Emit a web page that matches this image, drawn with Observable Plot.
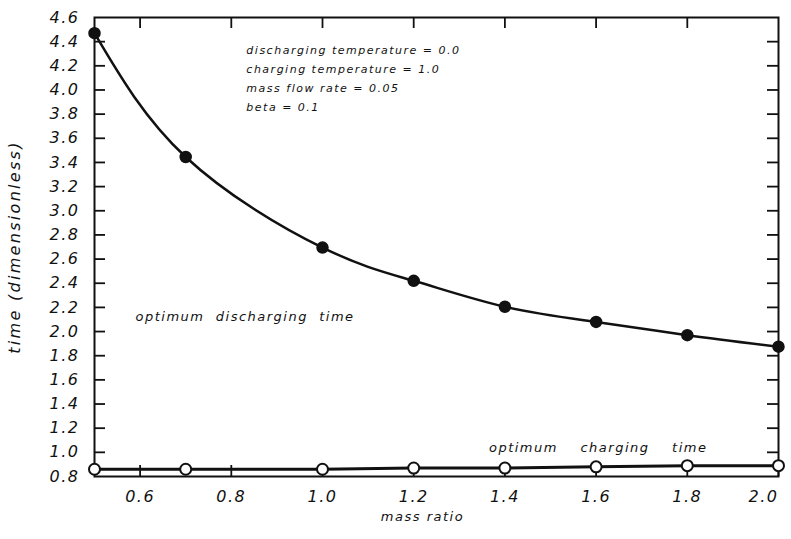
<!DOCTYPE html>
<html><head><meta charset="utf-8">
<script src="https://cdn.jsdelivr.net/npm/d3@7"></script>
<script src="https://cdn.jsdelivr.net/npm/@observablehq/plot@0.6"></script>
<style>
html,body{margin:0;padding:0;background:#fff;}
#chart svg text{font-family:"DejaVu Sans",sans-serif;font-style:italic;letter-spacing:1.5px;}
#chart g[aria-label="y-axis label"] text{letter-spacing:2.3px;}
#chart g[aria-label="params"] text{letter-spacing:0px;}
#chart g[aria-label="series-labels"] text{letter-spacing:0.2px;}
#chart g[aria-label="x-title"] text{letter-spacing:0px;}
</style></head><body><div id="chart"></div>
<script>
const massRatio = [0.5, 0.7, 1.0, 1.2, 1.4, 1.6, 1.8, 2.0];
const dischargingTime = [4.47, 3.445, 2.695, 2.42, 2.205, 2.08, 1.97, 1.875];
const chargingTime = [0.86, 0.86, 0.86, 0.87, 0.87, 0.88, 0.89, 0.89];
const xTicks = [0.6, 0.8, 1.0, 1.2, 1.4, 1.6, 1.8, 2.0];
const yTicks = [0.8, 1.0, 1.2, 1.4, 1.6, 1.8, 2.0, 2.2, 2.4, 2.6, 2.8, 3.0, 3.2, 3.4, 3.6, 3.8, 4.0, 4.2, 4.4, 4.6];
const paramLines = [
  "discharging temperature = 0.0",
  "charging temperature = 1.0",
  "mass flow rate = 0.05",
  "beta = 0.1"
];
const seriesLabels = ["optimum  discharging  time", "optimum    charging    time"];
const xLabel = "mass ratio";
const yLabel = "time (dimensionless)";

const discharging = massRatio.map((x, i) => ({x, y: dischargingTime[i]}));
const charging = massRatio.map((x, i) => ({x, y: chargingTime[i]}));
const params = paramLines.map((t, i) => ({t, i}));
const labelPos = [{x: 0.59, y: 2.12}, {x: 1.365, y: 1.04}];
const seriesText = seriesLabels.map((t, i) => ({t, ...labelPos[i]}));

const fmt = d => d.toFixed(1);
const xMin = 0.5, xMax = 2.0, yMin = 0.8, yMax = 4.6;
const tk = 11;

const chart = Plot.plot({
  width: 791,
  height: 539,
  marginLeft: 94,
  marginRight: 13,
  marginTop: 17,
  marginBottom: 63,
  style: {fontSize: "16px", color: "#111", background: "#fff"},
  x: {domain: [xMin, xMax]},
  y: {domain: [yMin, yMax]},
  marks: [
    Plot.frame({stroke: "#111", strokeWidth: 2}),
    // inward ticks
    Plot.ruleX(xTicks, {x: d => d, y1: yMin, y2: yMin, insetTop: -tk, stroke: "#111", strokeWidth: 1.8}),
    Plot.ruleX(xTicks.slice(0, -1), {x: d => d, y1: yMax, y2: yMax, insetBottom: -tk, stroke: "#111", strokeWidth: 1.8}),
    Plot.ruleY(yTicks.slice(1, -1), {y: d => d, x1: xMin, x2: xMin, insetRight: -tk, stroke: "#111", strokeWidth: 1.8}),
    Plot.ruleY(yTicks.slice(1, -1), {y: d => d, x1: xMax, x2: xMax, insetLeft: -tk, stroke: "#111", strokeWidth: 1.8}),
    // tick labels
    Plot.axisX(xTicks.slice(0, -1), {anchor: "bottom", tickSize: 0, tickPadding: 14, tickFormat: fmt, label: null}),
    Plot.axisX(xTicks.slice(-1), {anchor: "bottom", tickSize: 0, tickPadding: 14, tickFormat: fmt, textAnchor: "end", dx: 0, label: null}),
    Plot.axisY(yTicks, {anchor: "left", tickSize: 0, tickPadding: 15, tickFormat: fmt,
      label: yLabel, labelAnchor: "center", labelOffset: 86, labelArrow: "none"}),
    Plot.text([xLabel], {frameAnchor: "bottom", dx: -14, dy: 44, fontSize: 13, fill: "#111", ariaLabel: "x-title"}),
    Plot.line(discharging, {x: "x", y: "y", curve: "natural", stroke: "#111", strokeWidth: 2.5}),
    Plot.line(charging, {x: "x", y: "y", curve: "linear", stroke: "#111", strokeWidth: 3}),
    Plot.dot(discharging, {x: "x", y: "y", r: 5.5, fill: "#111", stroke: "#111"}),
    Plot.dot(charging, {x: "x", y: "y", r: 5.5, fill: "#fff", stroke: "#111", strokeWidth: 2}),
    Plot.text(params, {x: 0.833, y: d => 4.33 - d.i * 0.158, text: "t", textAnchor: "start", fontSize: 11, fill: "#111", ariaLabel: "params"}),
    Plot.text(seriesText, {x: "x", y: "y", text: "t", textAnchor: "start", fontSize: 13, fill: "#111", ariaLabel: "series-labels"})
  ]
});
document.getElementById("chart").appendChild(chart);
</script></body></html>
